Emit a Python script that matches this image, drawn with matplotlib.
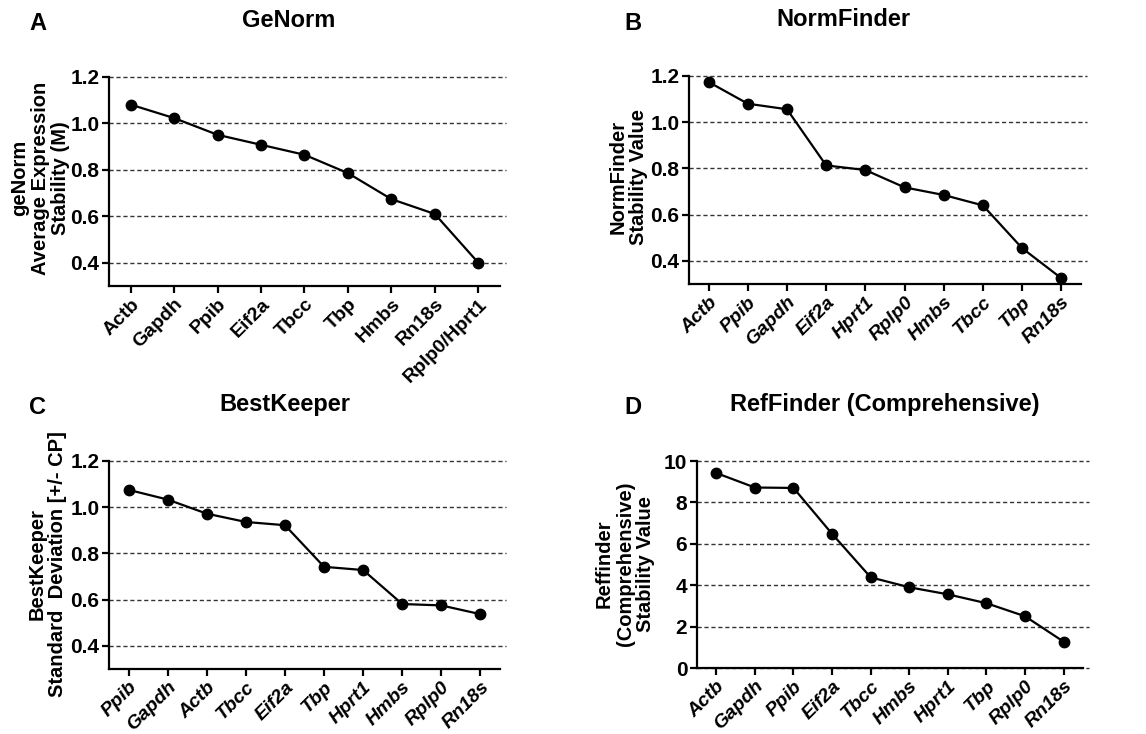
import matplotlib
matplotlib.use('Agg')
import matplotlib.pyplot as plt

plt.rcParams['font.family'] = ['Liberation Sans', 'DejaVu Sans']
plt.rcParams['font.weight'] = 'bold'

# panel A - GeNorm
genes_a = ['Actb', 'Gapdh', 'Ppib', 'Eif2a', 'Tbcc', 'Tbp', 'Hmbs', 'Rn18s', 'Rplp0/Hprt1']
vals_a = [1.081, 1.023, 0.951, 0.908, 0.865, 0.786, 0.674, 0.610, 0.400]

# panel B - NormFinder
genes_b = ['Actb', 'Ppib', 'Gapdh', 'Eif2a', 'Hprt1', 'Rplp0', 'Hmbs', 'Tbcc', 'Tbp', 'Rn18s']
vals_b = [1.174, 1.080, 1.056, 0.813, 0.793, 0.718, 0.685, 0.640, 0.455, 0.325]

# panel C - BestKeeper
genes_c = ['Ppib', 'Gapdh', 'Actb', 'Tbcc', 'Eif2a', 'Tbp', 'Hprt1', 'Hmbs', 'Rplp0', 'Rn18s']
vals_c = [1.075, 1.033, 0.972, 0.936, 0.922, 0.742, 0.728, 0.581, 0.575, 0.537]

# panel D - RefFinder
genes_d = ['Actb', 'Gapdh', 'Ppib', 'Eif2a', 'Tbcc', 'Hmbs', 'Hprt1', 'Tbp', 'Rplp0', 'Rn18s']
vals_d = [9.42, 8.72, 8.70, 6.48, 4.38, 3.90, 3.56, 3.13, 2.50, 1.27]

fig = plt.figure(figsize=(11.46, 7.34), dpi=100)


def panel(rect, genes, vals, yticks, ylim, ylabel, ylab_xy, title, title_x, italic):
    ax = fig.add_axes(rect)
    x = list(range(len(genes)))
    for t in yticks:
        ax.axhline(t, xmin=0, xmax=1.015, color='#333333', lw=1.0,
                   ls=(0, (3, 2)), clip_on=False, zorder=1)
    ax.plot(x, vals, color='black', lw=1.6, marker='o', ms=7.5,
            clip_on=False, zorder=3)
    ax.set_xlim(-0.5, len(genes) - 0.5)
    ax.set_ylim(*ylim)
    ax.set_yticks(yticks)
    ax.set_xticks(x)
    ax.set_xticklabels(genes, rotation=45, ha='right', rotation_mode='anchor',
                       fontsize=14, fontweight='bold',
                       fontstyle='italic' if italic else 'normal')
    for lab in ax.get_yticklabels():
        lab.set_fontsize(15)
        lab.set_fontweight('bold')
    ax.spines['top'].set_visible(False)
    ax.spines['right'].set_visible(False)
    ax.spines['left'].set_linewidth(1.6)
    ax.spines['bottom'].set_linewidth(1.6)
    ax.tick_params(width=1.6, length=5, pad=2)
    fig.text(ylab_xy[0], ylab_xy[1], ylabel, rotation=90, ha='center', va='center',
             multialignment='center', linespacing=1.1, fontsize=14.5, fontweight='bold')
    fig.text(title_x, rect[1] + rect[3] + 0.077, title, ha='center', va='center',
             fontsize=17, fontweight='bold')
    return ax


panel([0.0951, 0.6104, 0.3412, 0.2847], genes_a, vals_a, [0.4, 0.6, 0.8, 1.0, 1.2],
      (0.3, 1.2), 'geNorm\nAverage Expression\nStability (M)', (0.0353, 0.7575),
      'GeNorm', 0.252, False)
panel([0.6012, 0.6131, 0.342, 0.2834], genes_b, vals_b, [0.4, 0.6, 0.8, 1.0, 1.2],
      (0.3, 1.2), 'NormFinder\nStability Value', (0.548, 0.759),
      'NormFinder', 0.7356, True)
panel([0.0951, 0.0886, 0.3412, 0.2834], genes_c, vals_c, [0.4, 0.6, 0.8, 1.0, 1.2],
      (0.3, 1.2), 'BestKeeper\nStandard  Deviation [+/- CP]', (0.0414, 0.2316),
      'BestKeeper', 0.249, True)
panel([0.6082, 0.0899, 0.3368, 0.282], genes_d, vals_d, [0, 2, 4, 6, 8, 10],
      (0, 10), 'Reffinder\n(Comprehensive)\nStability Value', (0.5454, 0.2316),
      'RefFinder (Comprehensive)', 0.772, True)

for letter, (lx, ly) in zip('ABCD', [(0.033, 0.968), (0.552, 0.968), (0.033, 0.4455), (0.552, 0.4455)]):
    fig.text(lx, ly, letter, fontsize=17, fontweight='bold', ha='center', va='center')

fig.savefig('out.png', dpi=100)
